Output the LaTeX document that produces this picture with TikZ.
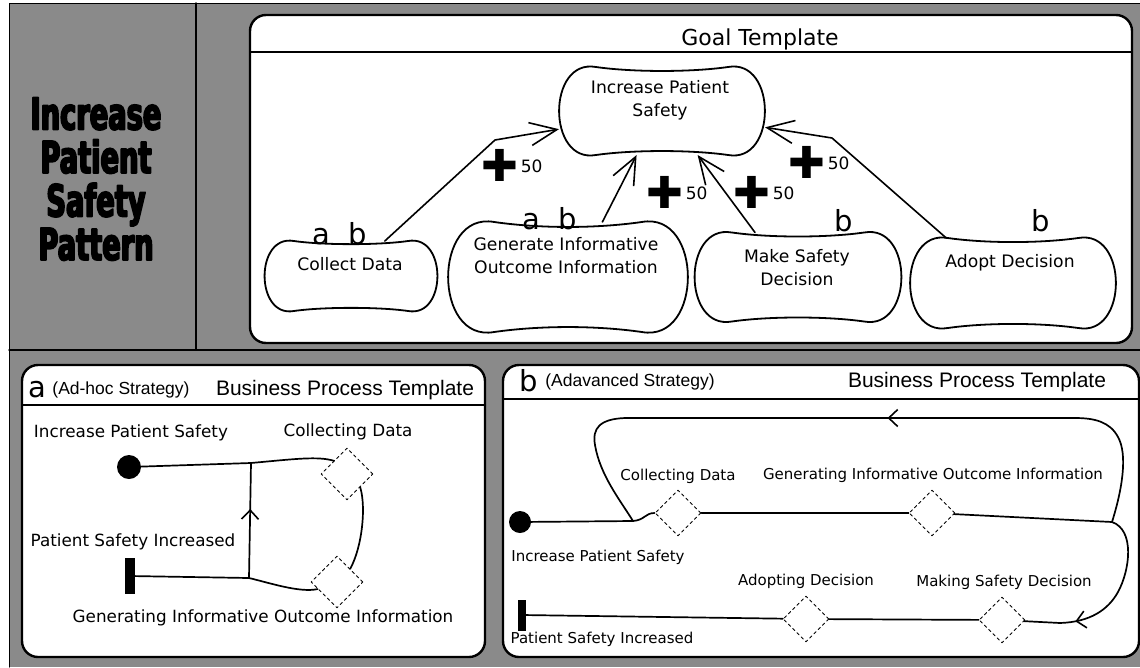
\documentclass[tikz,border=0pt]{standalone}
\usepackage{fontspec}
\setmainfont{DejaVu Sans}
\newfontfamily\arialfont{Liberation Sans}
\newfontfamily\impactfont[FakeStretch=0.62,FakeBold=4]{DejaVu Sans}
\usetikzlibrary{arrows.meta,shapes.geometric,decorations.markings,calc}
\definecolor{panelgray}{RGB}{138,138,138}

% outline of a soft goal, drawn round a named node
\newcommand\softgoal[1]{%
  \draw[goalline] let \p1=(#1.north west), \p2=(#1.south east),
      \n1={0.42*(\y1-\y2)}, \n2={0.06*(\y1-\y2)}, \n3={0.10*(\y1-\y2)} in
    (\x1+\n1,\y1)
    .. controls (\x1+2*\n1,\y1-\n2) and (\x2-2*\n1,\y1-\n2) .. (\x2-\n1,\y1)
    .. controls (\x2+0.33*\n1,\y1+\n3) and (\x2+0.33*\n1,\y2-\n3) .. (\x2-\n1,\y2)
    .. controls (\x2-2*\n1,\y2+\n2) and (\x1+2*\n1,\y2+\n2) .. (\x1+\n1,\y2)
    .. controls (\x1-0.33*\n1,\y2-\n3) and (\x1-0.33*\n1,\y1+\n3) .. cycle;}
\newcommand\plusmark{{\fontsize{44}{44}\selectfont\raisebox{-0.2em}{✚}}}

\begin{document}
\begin{tikzpicture}[x=1pt,y=-1pt,line join=round,line cap=round,
     panel/.style={draw,line width=2.4pt,fill=white,rounded corners=16pt},
     rule/.style={line width=2pt},
     goal/.style n args={2}{minimum width=#1,minimum height=#2,
       inner sep=0pt,outer sep=0pt},
     goalline/.style={line width=1.8pt},
     goaltext/.style={font=\fontsize{17.2}{23}\selectfont,align=center},
     goalhead/.style={font=\fontsize{22}{26}\selectfont},
     titletext/.style={font=\impactfont\bfseries\fontsize{44}{43.5}\selectfont,
       align=center},
     strat/.style={font=\fontsize{29}{29}\selectfont,inner sep=0pt},
     stratname/.style={font=\arialfont\fontsize{17.5}{20}\selectfont,inner sep=0pt},
     bptitle/.style={font=\arialfont\fontsize{21}{24}\selectfont,inner sep=0pt},
     contrib/.style={font=\fontsize{17}{17}\selectfont,anchor=west,inner sep=0pt},
     link/.style={line width=1.6pt,
       -{Straight Barb[length=27pt,width=23pt,line width=1.6pt]}},
     flow/.style={line width=1.7pt},
     midarrow/.style={postaction={decorate},decoration={markings,
       mark=at position #1 with {\arrow{Straight Barb[length=9pt,width=17pt,line width=1.6pt]}}}},
     startdot/.style={circle,fill,inner sep=0pt,minimum size=24pt},
     endbar/.style={rectangle,fill,inner sep=0pt},
     decision/.style={diamond,draw,dashed,line width=0.9pt,inner sep=0pt},
     plab/.style={font=\fontsize{16.8}{20}\selectfont,inner sep=0pt},
     plabb/.style={font=\fontsize{15}{18}\selectfont,inner sep=0pt}]
  \useasboundingbox (0,0) rectangle (1140,667);
  % frame
  \fill[panelgray] (9,3) rectangle (1140,667);
  \draw[line width=1pt] (1140,3) -- (9,3) -- (9,667);
  \draw[line width=1.5pt] (9,350) -- (1140,350);
  \draw[line width=1.5pt] (196,3) -- (196,350);
  \node[titletext] (pattern) at (96,179) {Increase\\Patient\\Safety\\Pattern};

  % goal template
  \draw[panel] (250,15) rectangle (1132,343);
  \draw[rule] (250,52) -- (1132,52);
  \node[goalhead] (goalhead) at (760,39) {Goal Template};
  \node[goal={206}{88}] (safety) at (662,111) {};
  \node[goal={173}{70}] (collect) at (351,276) {};
  \node[goal={240}{110}] (generate) at (568,277) {};
  \node[goal={207}{89}] (make) at (798,277) {};
  \node[goal={206}{90}] (adopt) at (1013,283) {};
  \foreach \g in {safety,collect,generate,make,adopt} {\softgoal{\g}}
  \node[goaltext] (safety-t) at (660,100) {Increase Patient\\Safety};
  \node[goaltext] (collect-t) at (350,264) {Collect Data};
  \node[goaltext] (generate-t) at (566,256) {Generate Informative\\Outcome Information};
  \node[goaltext] (make-t) at (797,268) {Make Safety\\Decision};
  \node[goaltext] (adopt-t) at (1010,263) {Adopt Decision};
  \node[strat] (collect-s) at (340,234) {a\ \ b};
  \node[strat] (generate-s) at (550,219) {a\ \ b};
  \node[strat] (make-s) at (844,221) {b};
  \node[strat] (adopt-s) at (1041,221) {b};
  \coordinate (bend1) at (495,140);
  \coordinate (bend2) at (832,138);
  \draw[link] (collect.46) -- (bend1) -- (safety.190);
  \draw[link] (generate.58) -- (safety.240);
  \draw[link] (make.134) -- (safety.309);
  \draw[link] (adopt.146) -- (bend2) -- (safety.351);
  \node[contrib] (c-collect) at (481,165) {\plusmark\,50};
  \node[contrib] (c-generate) at (646,192) {\plusmark\,50};
  \node[contrib] (c-make) at (733,192) {\plusmark\,50};
  \node[contrib] (c-adopt) at (788,162) {\plusmark\,50};

  % business process a
  \draw[panel] (22,365) rectangle (485,657);
  \draw[rule] (22,405) -- (485,405);
  \node[strat] (a-letter) at (37,390) {a};
  \node[stratname] (a-name) at (121,390) {(Ad-hoc Strategy)};
  \node[bptitle] (a-bp) at (345,390) {Business Process Template};
  \node[startdot] (a-start) at (129,467) {};
  \node[endbar,minimum width=10pt,minimum height=36pt] (a-end) at (130,576) {};
  \node[decision,minimum size=52pt] (a-collect) at (347,474) {};
  \node[decision,minimum size=52pt] (a-generate) at (337,582) {};
  \node[plab] (a-start-l) at (131,433) {Increase Patient Safety};
  \node[plab] (a-collect-l) at (348,432) {Collecting Data};
  \node[plab] (a-end-l) at (133,542) {Patient Safety Increased};
  \node[plab] (a-generate-l) at (263,618) {Generating Informative Outcome Information};
  \coordinate (a-j1) at (251,463);
  \coordinate (a-j2) at (249,578);
  \draw[flow] (a-start) -- (a-j1) .. controls (295,459) and (318,456) .. (a-collect.north west);
  \draw[flow] (a-collect.south east) .. controls +(6,20) and +(12,-22) .. (a-generate.north east);
  \draw[flow] (a-generate.200) .. controls (300,593) and (270,583) .. (a-j2) -- (a-end);
  \draw[flow,midarrow=0.6] (a-j2) -- (a-j1);

  % business process b
  \draw[panel] (503,365) rectangle (1139,657);
  \draw[rule] (503,399) -- (1139,399);
  \node[strat] (b-letter) at (529,381) {b};
  \node[stratname] (b-name) at (630,382) {(Adavanced Strategy)};
  \node[bptitle] (b-bp) at (977,382) {Business Process Template};
  \node[startdot,minimum size=22pt] (b-start) at (520,522) {};
  \node[endbar,minimum width=8pt,minimum height=31pt] (b-end) at (522,615) {};
  \node[decision,minimum size=46pt] (b-collect) at (678,513) {};
  \node[decision,minimum size=46pt] (b-generate) at (932,513) {};
  \node[decision,minimum size=46pt] (b-making) at (1002,620) {};
  \node[decision,minimum size=46pt] (b-adopting) at (806,619) {};
  \node[plabb] (b-start-l) at (598,557) {Increase Patient Safety};
  \node[plabb] (b-collect-l) at (678,476) {Collecting Data};
  \node[plabb] (b-generate-l) at (933,475) {Generating Informative Outcome Information};
  \node[plabb] (b-adopting-l) at (806,581) {Adopting Decision};
  \node[plabb] (b-making-l) at (1004,582) {Making Safety Decision};
  \node[plabb] (b-end-l) at (602,639) {Patient Safety Increased};
  \coordinate (b-j1) at (633,521);
  \coordinate (b-j2) at (1112,522);
  \draw[flow] (b-start) -- (b-j1) .. controls (645,520) and (645,513) .. (b-collect.west);
  \draw[flow] (b-collect) -- (b-generate);
  \draw[flow] (b-generate) -- (b-j2);
  \draw[flow,midarrow=0.45] (b-j2) .. controls (1122,490) and (1128,455) .. (1118,437)
    .. controls (1110,422) and (1095,418) .. (1075,418) -- (625,418)
    .. controls (600,419) and (592,428) .. (595,445)
    .. controls (600,475) and (620,500) .. (b-j1);
  \draw[flow,midarrow=0.72] (b-j2) .. controls (1135,530) and (1130,570) .. (1118,592)
    .. controls (1108,610) and (1090,622) .. (1060,623) -- (b-making);
  \draw[flow] (b-making) -- (b-adopting);
  \draw[flow] (b-adopting) -- (b-end);
\end{tikzpicture}
\end{document}
